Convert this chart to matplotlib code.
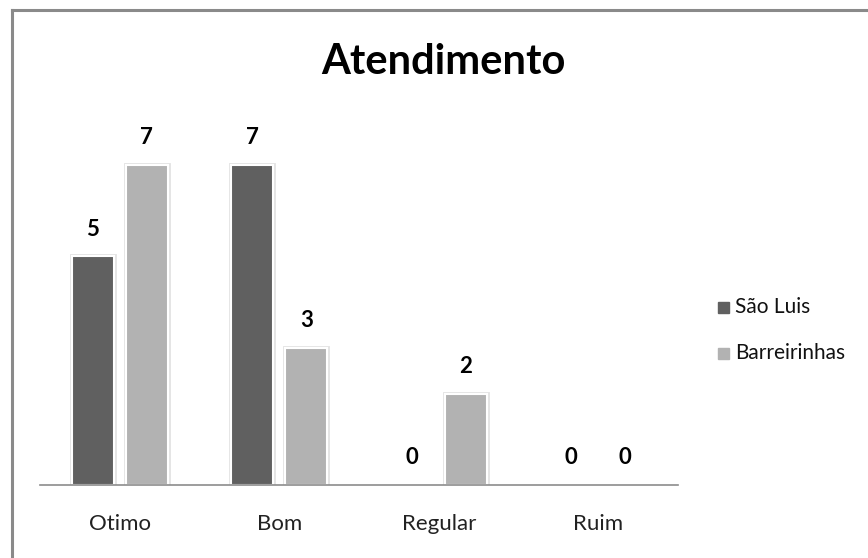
import matplotlib.pyplot as plt
import matplotlib.patheffects as pe
from matplotlib.lines import Line2D
from matplotlib.patches import Rectangle
import numpy as np

plt.rcParams['font.family'] = ['Lato', 'DejaVu Sans']

categories = ["Otimo", "Bom", "Regular", "Ruim"]
sao_luis = [5, 7, 0, 0]
barreirinhas = [7, 3, 2, 0]

DARK = "#606060"
LIGHT = "#b2b2b2"

fig = plt.figure(figsize=(8.68, 5.58), dpi=100)
ax = fig.add_axes([40 / 868, 73 / 558, 638 / 868, 366 / 558])

x = np.arange(len(categories))
w = 0.264
off = 0.17
# faint outline around each bar, like the office-style shadow
shadow = [pe.Stroke(linewidth=3.5, foreground="#e4e4e4"), pe.Normal()]
b1 = ax.bar(x - off, sao_luis, w, color=DARK, edgecolor="white", linewidth=1.5)
b2 = ax.bar(x + off, barreirinhas, w, color=LIGHT, edgecolor="white", linewidth=1.5)
for b in list(b1) + list(b2):
    if b.get_height() > 0:
        b.set_path_effects(shadow)

for bars, vals in ((b1, sao_luis), (b2, barreirinhas)):
    for b, v in zip(bars, vals):
        ax.annotate(str(v), (b.get_x() + b.get_width() / 2, v), xytext=(0, 12),
                    textcoords="offset points", ha="center", va="bottom",
                    fontsize=16, fontweight="bold", color="black")

ax.set_xlim(-0.5, len(categories) - 0.5)
ax.set_ylim(0, 8)
ax.set_xticks(x)
ax.set_xticklabels(categories, fontsize=16, color="#222222")
ax.tick_params(axis="x", length=0, pad=21)
ax.set_yticks([])
for s in ("top", "right", "left"):
    ax.spines[s].set_visible(False)
ax.spines["bottom"].set_color("#8c8c8c")
ax.spines["bottom"].set_linewidth(1.2)

fig.text(443 / 868, 1 - 62 / 558, "Atendimento", ha="center", va="center",
         fontsize=30, fontweight="bold", color="black")

# legend drawn by hand at the right
for lbl, col, yy in (("São Luis", DARK, 307), ("Barreirinhas", LIGHT, 353)):
    fig.patches.append(Rectangle((718 / 868, 1 - (yy + 6) / 558), 11 / 868, 11 / 558,
                                 transform=fig.transFigure, color=col))
    fig.text(735 / 868, 1 - yy / 558, lbl, ha="left", va="center",
             fontsize=15, color="#111111")

# outer frame: only top and left edges are visible
fig.lines.append(Line2D([12 / 868, 1], [1 - 10 / 558, 1 - 10 / 558],
                        transform=fig.transFigure, color="#8a8a8a", linewidth=2.2))
fig.lines.append(Line2D([12 / 868, 12 / 868], [0, 1 - 10 / 558],
                        transform=fig.transFigure, color="#8a8a8a", linewidth=2.2))

fig.savefig("out.png", dpi=100, facecolor="white")
